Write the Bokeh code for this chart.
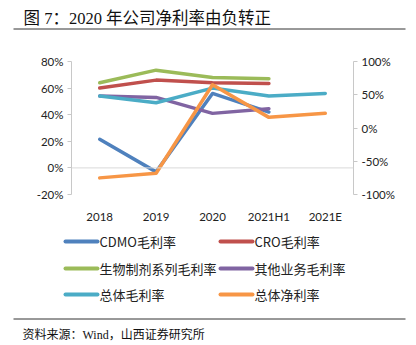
from bokeh.plotting import figure
from bokeh.models import (Range1d, FactorRange, LinearAxis, FixedTicker, NumeralTickFormatter, Span)
from bokeh.layouts import column
from bokeh.core.properties import value
from bokeh.embed import file_html
from bokeh.resources import INLINE

categories = ["2018", "2019", "2020", "2021H1", "2021E"]
cdmo_gm = [0.215, -0.03, 0.56, 0.42]
cro_gm = [0.60, 0.66, 0.64, 0.635]
bio_gm = [0.64, 0.735, 0.68, 0.67]
other_gm = [0.54, 0.53, 0.41, 0.445]
total_gm = [0.54, 0.49, 0.60, 0.54, 0.56]
net_margin = [-0.75, -0.68, 0.65, 0.16, 0.22]

left_ticks = [-0.2, 0.0, 0.2, 0.4, 0.6, 0.8]
right_ticks = [-1.0, -0.5, 0.0, 0.5, 1.0]

names = ["CDMO毛利率", "CRO毛利率", "生物制剂系列毛利率", "其他业务毛利率", "总体毛利率", "总体净利率"]
colors = ["#4F81BD", "#C0504D", "#9BBB59", "#8064A2", "#4BACC6", "#F79646"]

title_text = "图 7：2020 年公司净利率由负转正"
source_text = "资料来源：Wind，山西证券研究所"

W = 416
HEAD_H = 35
MAIN_BOTTOM = 225
MAIN_H = MAIN_BOTTOM - HEAD_H
FOOT_H = 345 - MAIN_BOTTOM
FL, FR = 71, 353
FT, FB = 61 - HEAD_H, 197 - HEAD_H

serif_cjk = "Liberation Serif, Noto Sans CJK SC"


def blank_fig(h):
    f = figure(width=W, height=h, x_range=Range1d(0, W), y_range=Range1d(h, 0),
               output_backend="svg", toolbar_location=None,
               x_axis_location=None, y_axis_location=None, frame_align=False,
               min_border=0, min_border_left=0, min_border_right=0, min_border_top=0, min_border_bottom=0)
    f.grid.visible = False
    f.title.visible = False
    f.outline_line_color = None
    f.background_fill_color = "white"
    f.border_fill_color = "white"
    return f


# header
head = blank_fig(HEAD_H)
head.text(x=[23], y=[18], text=[title_text], text_font=value(serif_cjk), text_font_size="16.5px",
          text_color="#111111", text_baseline="middle", text_align="left")
head.segment(x0=[13], y0=[28.5], x1=[405], y1=[28.5], line_color="#333333", line_width=1)

# main chart
p = figure(width=W, height=MAIN_H, x_range=FactorRange(*categories), y_range=Range1d(-0.2, 0.8),
           output_backend="svg", toolbar_location=None, frame_align=False,
           min_border_left=FL, min_border_right=W - FR, min_border_top=FT, min_border_bottom=MAIN_H - FB)
p.outline_line_color = None
p.background_fill_color = "white"
p.border_fill_color = "white"
p.xgrid.visible = False
p.ygrid.visible = False
p.extra_y_ranges = {"right": Range1d(-1.0, 1.0)}

tick_font = "Lato"
ya = p.yaxis[0]
ya.ticker = FixedTicker(ticks=left_ticks)
ya.formatter = NumeralTickFormatter(format="0%")

ra = LinearAxis(y_range_name="right", ticker=FixedTicker(ticks=right_ticks),
                formatter=NumeralTickFormatter(format="0%"))
p.add_layout(ra, "right")
for ax in (ya, ra):
    ax.axis_line_color = "#c8c8c8"
    ax.major_tick_line_color = "#c8c8c8"
    ax.major_tick_out = 4
    ax.major_tick_in = 0
    ax.minor_tick_line_color = None
    ax.major_label_text_font = tick_font
    ax.major_label_text_font_size = "11.5px"
    ax.major_label_text_color = "#222222"
    ax.major_label_standoff = 4

xa = p.xaxis[0]
xa.axis_line_color = None
xa.major_tick_line_color = None
xa.minor_tick_line_color = None
xa.major_label_text_font = tick_font
xa.major_label_text_font_size = "11.5px"
xa.major_label_text_color = "#222222"
xa.major_label_standoff = 9

p.add_layout(Span(location=0, dimension="width", line_color="#d9d9d9", line_width=1))

series = [cdmo_gm, cro_gm, bio_gm, other_gm, total_gm, net_margin]
for i, (s, c) in enumerate(zip(series, colors)):
    xs = categories[:len(s)]
    kw = {"y_range_name": "right"} if i == 5 else {}
    p.line(xs, s, line_color=c, line_width=3.5, line_cap="round", line_join="round", **kw)

# legend + footer
foot = blank_fig(FOOT_H)
col_x = [65, 220]
row_y = [16, 43, 69]
lx0, lx1, tx = [], [], []
ly = []
for k in range(len(names)):
    cx = col_x[k % 2]
    lx0.append(cx)
    lx1.append(cx + 32)
    tx.append(cx + 34)
    ly.append(row_y[k // 2])
foot.segment(x0=lx0, y0=ly, x1=lx1, y1=ly, line_color=colors, line_width=4, line_cap="round")
foot.text(x=tx, y=ly, text=names, text_font=value("Noto Sans CJK SC"), text_font_size="13px",
          text_color="#222222", text_baseline="middle", text_align="left")

foot.segment(x0=[13], y0=[93.5], x1=[405], y1=[93.5], line_color="#333333", line_width=1)
foot.text(x=[22], y=[109], text=[source_text], text_font=value(serif_cjk), text_font_size="12px",
          text_color="#111111", text_baseline="middle", text_align="left")

layout = column(head, p, foot, spacing=0)
open("out.html", "w").write(file_html(layout, INLINE))
